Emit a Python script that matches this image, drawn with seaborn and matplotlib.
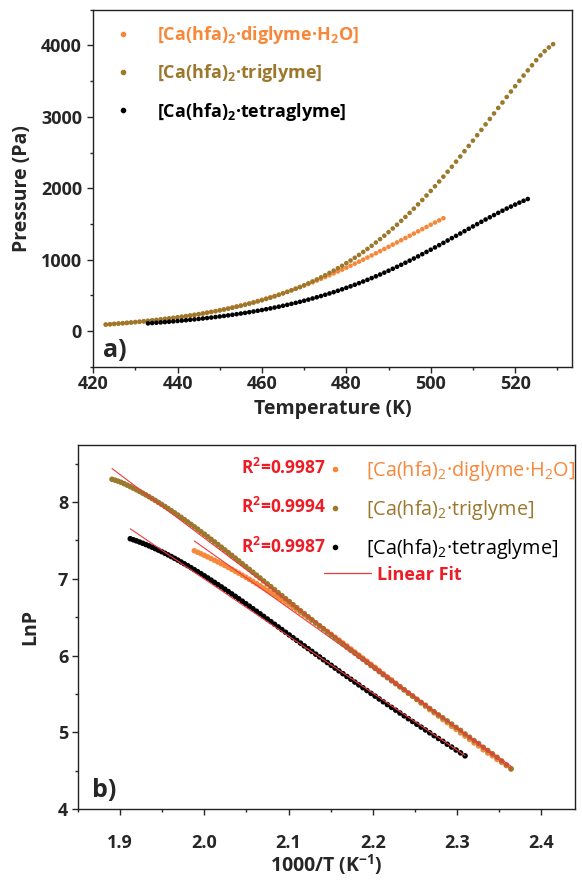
import numpy as np
import pandas as pd
import matplotlib
matplotlib.use('Agg')
import matplotlib.pyplot as plt
from matplotlib.lines import Line2D
from matplotlib.ticker import MultipleLocator
import seaborn as sns

# Vapour pressure curves, one point per kelvin
temp_di = [423, 424, 425, 426, 427, 428, 429, 430, 431, 432, 433, 434, 435, 436, 437, 438, 439, 440, 441, 442,
           443, 444, 445, 446, 447, 448, 449, 450, 451, 452, 453, 454, 455, 456, 457, 458, 459, 460, 461, 462,
           463, 464, 465, 466, 467, 468, 469, 470, 471, 472, 473, 474, 475, 476, 477, 478, 479, 480, 481, 482,
           483, 484, 485, 486, 487, 488, 489, 490, 491, 492, 493, 494, 495, 496, 497, 498, 499, 500, 501, 502,
           503]
pres_di = [92, 96, 100, 104, 109, 113, 118, 124, 129, 135, 141, 147, 154, 160, 168, 175, 183, 191, 199, 208,
           217, 227, 237, 247, 258, 269, 281, 293, 305, 318, 332, 346, 360, 375, 390, 406, 422, 439, 457, 475,
           493, 512, 532, 552, 573, 594, 616, 638, 661, 684, 708, 732, 757, 782, 808, 835, 861, 888, 916, 944,
           973, 1001, 1031, 1060, 1090, 1120, 1150, 1181, 1211, 1242, 1273, 1304, 1335, 1366, 1397, 1428, 1459, 1490, 1521, 1551,
           1581]

temp_tri = [423, 424, 425, 426, 427, 428, 429, 430, 431, 432, 433, 434, 435, 436, 437, 438, 439, 440, 441, 442,
            443, 444, 445, 446, 447, 448, 449, 450, 451, 452, 453, 454, 455, 456, 457, 458, 459, 460, 461, 462,
            463, 464, 465, 466, 467, 468, 469, 470, 471, 472, 473, 474, 475, 476, 477, 478, 479, 480, 481, 482,
            483, 484, 485, 486, 487, 488, 489, 490, 491, 492, 493, 494, 495, 496, 497, 498, 499, 500, 501, 502,
            503, 504, 505, 506, 507, 508, 509, 510, 511, 512, 513, 514, 515, 516, 517, 518, 519, 520, 521, 522,
            523, 524, 525, 526, 527, 528, 529]
pres_tri = [92, 97, 102, 107, 112, 117, 122, 128, 133, 139, 145, 152, 158, 165, 172, 179, 186, 194, 202, 211,
            219, 228, 238, 247, 258, 268, 279, 290, 302, 314, 327, 341, 354, 369, 384, 399, 416, 432, 450, 468,
            487, 507, 528, 549, 571, 594, 618, 643, 669, 696, 724, 753, 783, 815, 847, 881, 915, 952, 989, 1027,
            1067, 1109, 1151, 1195, 1241, 1288, 1336, 1386, 1437, 1490, 1544, 1599, 1656, 1715, 1775, 1836, 1899, 1963, 2028, 2095,
            2163, 2232, 2302, 2373, 2445, 2519, 2593, 2667, 2743, 2818, 2895, 2971, 3048, 3125, 3201, 3278, 3354, 3429, 3504, 3578,
            3651, 3722, 3793, 3861, 3920, 3972, 4018]

temp_tet = [433, 434, 435, 436, 437, 438, 439, 440, 441, 442, 443, 444, 445, 446, 447, 448, 449, 450, 451, 452,
            453, 454, 455, 456, 457, 458, 459, 460, 461, 462, 463, 464, 465, 466, 467, 468, 469, 470, 471, 472,
            473, 474, 475, 476, 477, 478, 479, 480, 481, 482, 483, 484, 485, 486, 487, 488, 489, 490, 491, 492,
            493, 494, 495, 496, 497, 498, 499, 500, 501, 502, 503, 504, 505, 506, 507, 508, 509, 510, 511, 512,
            513, 514, 515, 516, 517, 518, 519, 520, 521, 522, 523]
pres_tet = [109.0, 113.3, 117.6, 122.2, 126.8, 131.7, 136.7, 141.9, 147.2, 152.8, 158.5, 164.5, 170.6, 177.0, 183.7, 190.5, 197.7, 205.1, 212.7, 220.7,
            228.9, 237.5, 246.3, 255.5, 265.1, 275.0, 285.2, 295.9, 306.9, 318.3, 330.2, 342.4, 355.1, 368.3, 381.9, 396.0, 410.6, 425.7, 441.3, 457.4,
            474.1, 491.3, 509.0, 527.3, 546.2, 565.7, 585.7, 606.4, 627.6, 649.5, 671.9, 695.0, 718.6, 742.9, 767.7, 793.1, 819.2, 845.8, 873.0, 900.7,
            929.0, 957.8, 987.1, 1017, 1047, 1078, 1109, 1140, 1172, 1204, 1236, 1269, 1302, 1334, 1367, 1400, 1433, 1466, 1498, 1531,
            1563, 1594, 1625, 1656, 1686, 1716, 1744, 1772, 1799, 1825, 1850]

names = ['[Ca(hfa)$_2$·diglyme·H$_2$O]', '[Ca(hfa)$_2$·triglyme]', '[Ca(hfa)$_2$·tetraglyme]']
colors = ['#F7883A', '#9C782C', '#000000']
r2 = ['0.9987', '0.9994', '0.9987']
fit_color = '#F0383C'

sns.set_style('ticks')
plt.rcParams['font.family'] = ['Open Sans', 'DejaVu Sans']
plt.rcParams['mathtext.default'] = 'regular'

df = pd.concat([pd.DataFrame({'T': t, 'P': p, 'compound': n})
                for t, p, n in zip([temp_di, temp_tri, temp_tet], [pres_di, pres_tri, pres_tet], names)])
df['X'] = 1000 / df['T']
df['LnP'] = np.log(df['P'])

fig = plt.figure(figsize=(5.82, 8.84), dpi=100)
ax1 = fig.add_axes([0.160, 0.585, 0.823, 0.404])
ax2 = fig.add_axes([0.134, 0.085, 0.854, 0.412])

# a) pressure vs temperature
sns.scatterplot(data=df, x='T', y='P', hue='compound', palette=colors, s=11, linewidth=0, legend=False, ax=ax1)

# b) Clausius-Clapeyron plot with linear fits
sns.scatterplot(data=df, x='X', y='LnP', hue='compound', palette=colors, s=16, linewidth=0, legend=False, ax=ax2)
for n in names:
    sns.regplot(data=df[df['compound'] == n], x='X', y='LnP', scatter=False, ci=None,
                line_kws={'color': fit_color, 'lw': 0.8}, ax=ax2)

ax1.set_xlim(420, 533.5)
ax1.set_ylim(-500, 4500)
ax1.xaxis.set_major_locator(MultipleLocator(20))
ax1.xaxis.set_minor_locator(MultipleLocator(10))
ax1.yaxis.set_major_locator(MultipleLocator(1000))
ax1.yaxis.set_minor_locator(MultipleLocator(500))
ax1.set_xlabel('Temperature (K)', fontsize=14, fontweight='bold', labelpad=4)
ax1.set_ylabel('Pressure (Pa)', fontsize=14, fontweight='bold')
ax1.yaxis.set_label_coords(-0.127, 0.5)

ax2.set_xlim(1.85, 2.44)
ax2.set_ylim(4, 8.75)
ax2.xaxis.set_major_locator(MultipleLocator(0.1))
ax2.xaxis.set_minor_locator(MultipleLocator(0.05))
ax2.yaxis.set_major_locator(MultipleLocator(1))
ax2.yaxis.set_minor_locator(MultipleLocator(0.5))
ax2.set_xlabel('1000/T (K$^{-1}$)', fontsize=14, fontweight='bold', labelpad=0)
ax2.set_ylabel('LnP', fontsize=14, fontweight='bold')
ax2.yaxis.set_label_coords(-0.075, 0.5)

for ax in (ax1, ax2):
    for sp in ax.spines.values():
        sp.set_linewidth(1.0)
        sp.set_color('#222222')
    ax.tick_params(which='major', direction='out', length=4, width=1, labelsize=13)
    ax.tick_params(which='minor', direction='out', length=2.5, width=1)
    for lab in ax.get_xticklabels() + ax.get_yticklabels():
        lab.set_fontweight('bold')
ax1.tick_params(axis='x', which='major', pad=2)
ax1.tick_params(axis='y', which='major', pad=4)
ax2.tick_params(axis='x', which='major', pad=14)
ax2.tick_params(axis='y', which='major', pad=3)

ax1.text(0.02, 0.028, 'a)', transform=ax1.transAxes, fontsize=18, fontweight='bold')
ax2.text(0.028, 0.033, 'b)', transform=ax2.transAxes, fontsize=18, fontweight='bold')

# legends
handles = [Line2D([], [], ls='', marker='o', ms=3, color=c) for c in colors]
leg1 = ax1.legend(handles, names, loc='upper left', bbox_to_anchor=(0.044, 0.96), frameon=False,
                  handlelength=1, handletextpad=1.39, labelspacing=0.9, borderpad=0, borderaxespad=0,
                  prop={'weight': 'bold', 'size': 13})
for txt, c in zip(leg1.get_texts(), colors):
    txt.set_color(c)

leg2 = ax2.legend(handles, names, loc='upper left', bbox_to_anchor=(0.499, 0.96), frameon=False,
                  handlelength=0.9, handletextpad=1.12, labelspacing=0.76, borderpad=0, borderaxespad=0,
                  prop={'size': 14.3})
for txt, c in zip(leg2.get_texts(), colors):
    txt.set_color(c)
ax2.add_artist(leg2)
leg3 = ax2.legend([Line2D([], [], color=fit_color, lw=0.9)], ['Linear Fit'], loc='center left',
                  bbox_to_anchor=(0.495, 0.643), frameon=False, handlelength=2.6, handletextpad=0.35,
                  borderpad=0, borderaxespad=0, prop={'weight': 'bold', 'size': 13})
leg3.get_texts()[0].set_color('#EE1C25')

for yy, r in zip([0.937, 0.830, 0.720], r2):
    ax2.text(0.499, yy, 'R$^2$=' + r, transform=ax2.transAxes, ha='right', va='center',
             color='#EE1C25', fontsize=12.5, fontweight='bold')

fig.savefig('out.png', dpi=100)
